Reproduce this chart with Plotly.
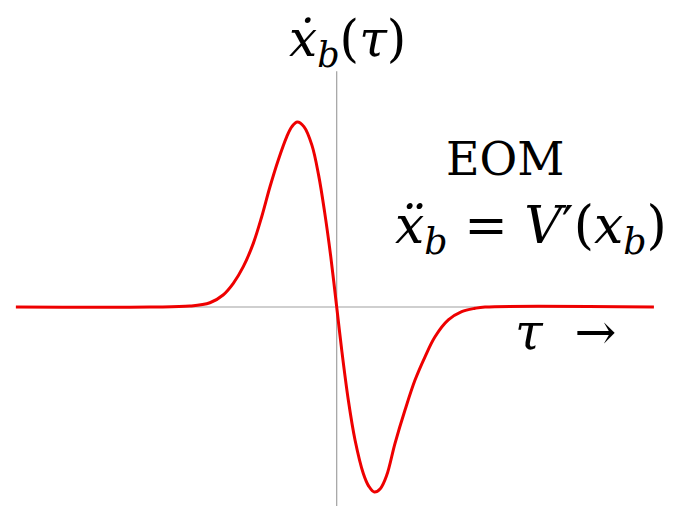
import plotly.graph_objects as go

# Bounce velocity profile: tau and x_b-dot samples along the curve
tau = [-8.02, -4.67, -3.67, -3.17, -2.84, -2.585, -2.335, -2.085, -1.875, -1.668,
       -1.46, -1.25, -1.12, -0.985, -0.82, -0.62, -0.45, -0.3, -0.15,
       0.0, 0.125, 0.29, 0.458, 0.665, 0.8, 0.94, 1.09, 1.25, 1.458,
       1.708, 1.958, 2.208, 2.458, 2.79, 3.125, 3.458, 3.708, 7.93]
xdot = [0.0, 0.0, 0.005, 0.023, 0.065, 0.128, 0.218, 0.344, 0.488, 0.650,
        0.795, 0.920, 0.975, 1.0, 0.975, 0.875, 0.710, 0.510, 0.275,
        0.0, -0.232, -0.503, -0.719, -0.900, -0.968, -1.0, -0.982, -0.91, -0.737,
        -0.557, -0.395, -0.269, -0.161, -0.070, -0.025, -0.007, 0.0, 0.0]

axis_color = "#a0a0a0"
serif = "DejaVu Serif"

fig = go.Figure()

# axes through the origin
fig.add_shape(type="line", x0=-8.02, x1=7.93, y0=0, y1=0,
              line=dict(color=axis_color, width=1.2), layer="below")
fig.add_shape(type="line", x0=0, x1=0, y0=1.275, y1=-1.08,
              line=dict(color=axis_color, width=1.2), layer="below")

fig.add_trace(go.Scatter(
    x=tau, y=xdot, mode="lines",
    line=dict(color="#ee0000", width=3, shape="spline", smoothing=1.0),
    hoverinfo="skip", showlegend=False,
))

fig.add_annotation(x=0.26, y=1.43, text="<i>ẋ</i><sub><i>b</i></sub>(<i>τ</i>)",
                   showarrow=False, font=dict(family=serif, size=50, color="black"),
                   xanchor="center", yanchor="middle")
fig.add_annotation(x=4.21, y=0.80, text="EOM", showarrow=False,
                   font=dict(family=serif, size=46, color="black"),
                   xanchor="center", yanchor="middle")
fig.add_annotation(x=4.86, y=0.42,
                   text="<i>ẍ</i><sub><i>b</i></sub> = <i>V</i>′(<i>x</i><sub><i>b</i></sub>)",
                   showarrow=False, font=dict(family=serif, size=52, color="black"),
                   xanchor="center", yanchor="middle")
fig.add_annotation(x=5.71, y=-0.135, text="<i>τ</i>  →", showarrow=False,
                   font=dict(family=serif, size=50, color="black"),
                   xanchor="center", yanchor="middle")

fig.update_layout(
    width=675, height=506,
    margin=dict(l=0, r=0, t=0, b=0),
    paper_bgcolor="white", plot_bgcolor="white",
    xaxis=dict(range=[-8.4175, 8.4575], visible=False, fixedrange=True),
    yaxis=dict(range=[-1.0757, 1.6595], visible=False, fixedrange=True),
)

fig.write_html("out.html")
